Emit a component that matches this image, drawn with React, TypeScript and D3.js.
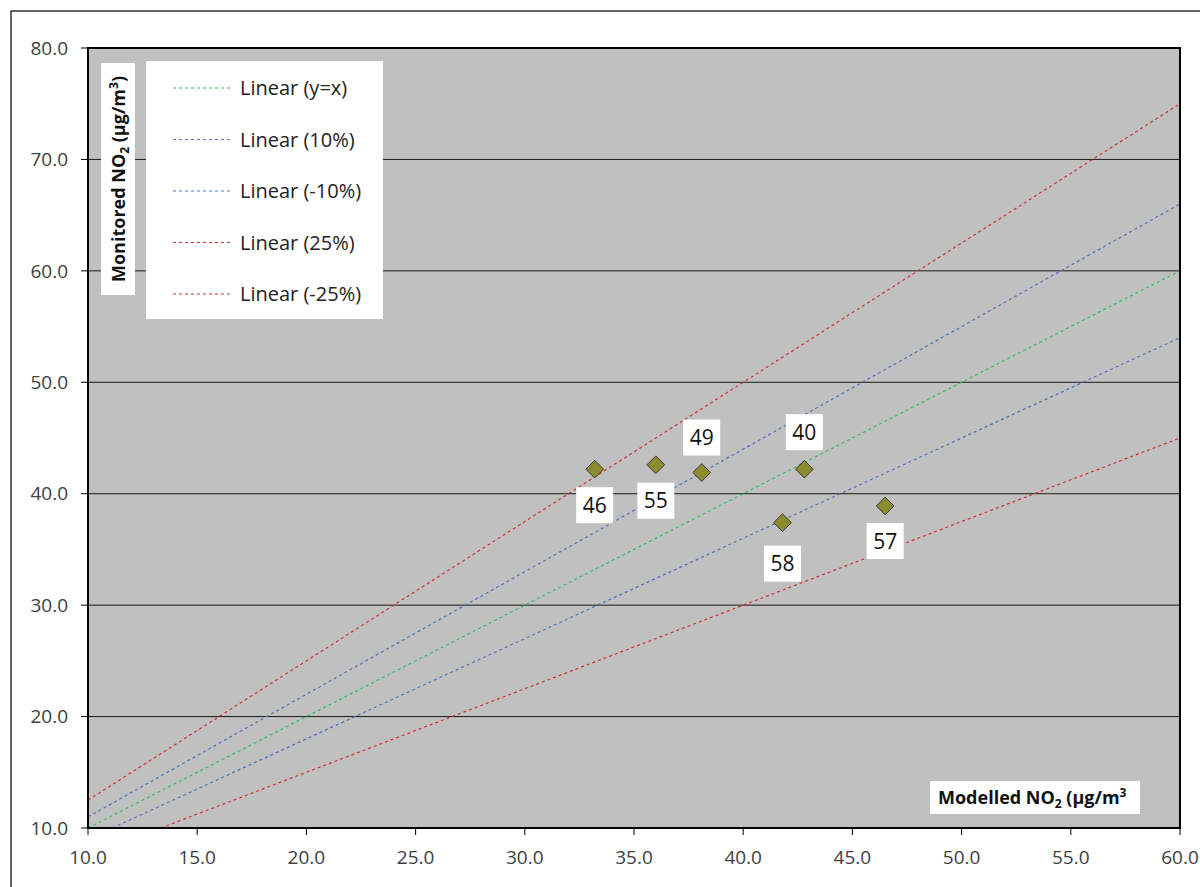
import React from "react";
import * as d3 from "d3";

const siteLabels = ["46", "55", "49", "40", "58", "57"];
const modelled = [33.2, 36.0, 38.1, 42.8, 41.8, 46.5];
const monitored = [42.2, 42.6, 41.9, 42.2, 37.4, 38.9];
const labelDy = [36, 36, -35, -37, 41, 35];

const lineNames = ["Linear (y=x)", "Linear (10%)", "Linear (-10%)", "Linear (25%)", "Linear (-25%)"];
const lineFactors = [1, 1.1, 0.9, 1.25, 0.75];
const lineColors = ["#2fbf5f", "#4d72b8", "#4d72b8", "#d43030", "#d43030"];

const xTicks = [10, 15, 20, 25, 30, 35, 40, 45, 50, 55, 60];
const yTicks = [10, 20, 30, 40, 50, 60, 70, 80];

export default function App() {
  const L = 88, R = 1180, T = 48, B = 828;
  const x = d3.scaleLinear().domain([10, 60]).range([L, R]);
  const y = d3.scaleLinear().domain([10, 80]).range([B, T]);
  const font = "'Open Sans', 'Noto Sans', sans-serif";

  const diamond = d3.symbol().type(d3.symbolDiamond2).size(200)();

  const lines = lineFactors.map((f) => {
    let x0 = 10, x1 = 60;
    if (f * x0 < 10) x0 = 10 / f;
    if (f * x1 > 80) x1 = 80 / f;
    const gen = d3.line<number>().x((d) => x(d)).y((d) => y(f * d));
    return gen([x0, x1]) as string;
  });

  return (
    <svg width={1200} height={887} style={{ position: "absolute", left: 0, top: 0, background: "#fff" }}>
      <rect x={11} y={11} width={1200} height={900} fill="#fff" stroke="#000" strokeWidth={1.2} />
      <rect x={L} y={T} width={R - L} height={B - T} fill="#c0c0c0" />
      {yTicks.map((t) => (
        <line key={"g" + t} x1={L} x2={R} y1={y(t)} y2={y(t)} stroke="#1a1a1a" strokeWidth={1} />
      ))}
      {lines.map((d, i) => (
        <path key={"l" + i} d={d} fill="none" stroke={lineColors[i]} strokeWidth={1.2} strokeDasharray="3,3" />
      ))}
      <rect x={L} y={T} width={R - L} height={B - T} fill="none" stroke="#000" strokeWidth={2} />
      {yTicks.map((t) => (
        <g key={"y" + t}>
          <line x1={L - 7} x2={L} y1={y(t)} y2={y(t)} stroke="#000" strokeWidth={1} />
          <text x={L - 20} y={y(t)} dy="0.35em" textAnchor="end" fontFamily={font} fontSize={19} fill="#404040">
            {t.toFixed(1)}
          </text>
        </g>
      ))}
      {xTicks.map((t) => (
        <g key={"x" + t}>
          <line x1={x(t)} x2={x(t)} y1={B} y2={B + 7} stroke="#000" strokeWidth={1} />
          <text x={x(t)} y={B + 29} dy="0.35em" textAnchor="middle" fontFamily={font} fontSize={19} fill="#404040">
            {t.toFixed(1)}
          </text>
        </g>
      ))}
      {modelled.map((m, i) => (
        <path key={"p" + i} d={diamond} transform={`translate(${x(m)},${y(monitored[i])})`} fill="#8c8c2e" stroke="#3a3a3a" strokeWidth={1} />
      ))}
      {modelled.map((m, i) => {
        const cx = x(m), cy = y(monitored[i]) + labelDy[i];
        return (
          <g key={"lab" + i}>
            <rect x={cx - 18.5} y={cy - 18} width={37} height={36} fill="#fff" />
            <text x={cx} y={cy} dy="0.36em" textAnchor="middle" fontFamily={font} fontSize={21} fill="#111">
              {siteLabels[i]}
            </text>
          </g>
        );
      })}
      <rect x={146} y={61} width={237} height={258} fill="#fff" />
      {lineNames.map((n, i) => {
        const ly = 88 + i * 51.5;
        return (
          <g key={"lg" + i}>
            <line x1={173} x2={233} y1={ly} y2={ly} stroke={lineColors[i]} strokeWidth={1.2} strokeDasharray="3,3" />
            <text x={240} y={ly} dy="0.35em" fontFamily={font} fontSize={20} fill="#222">
              {n}
            </text>
          </g>
        );
      })}
      <rect x={101} y={63} width={34} height={232} fill="#fff" />
      <text transform="translate(125,179) rotate(-90)" textAnchor="middle" fontFamily={font} fontSize={18} fontWeight="bold" fill="#111">
        Monitored  NO<tspan fontSize={12} dy={4}>2</tspan><tspan dy={-4}> (µg/m</tspan><tspan fontSize={12} dy={-7}>3</tspan><tspan dy={7}>)</tspan>
      </text>
      <rect x={930} y={781} width={210} height={33} fill="#fff" />
      <text x={938} y={798} dy="0.35em" fontFamily={font} fontSize={18} fontWeight="bold" fill="#111">
        Modelled NO<tspan fontSize={12} dy={4}>2</tspan><tspan dy={-4}> (µg/m</tspan><tspan fontSize={12} dy={-7}>3</tspan>
      </text>
    </svg>
  );
}
